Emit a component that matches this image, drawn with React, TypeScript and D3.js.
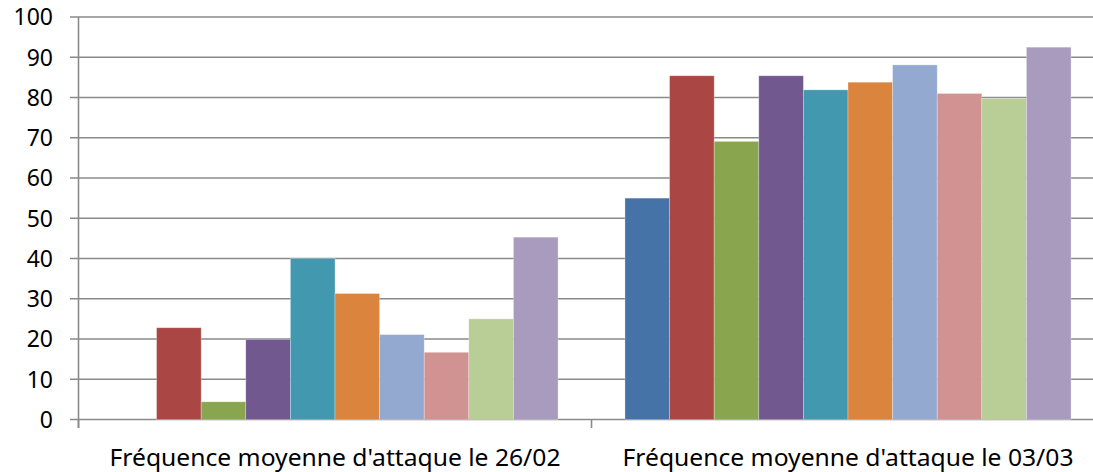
import React from "react";
import * as d3 from "d3";

const categories = ["Fréquence moyenne d'attaque le 26/02", "Fréquence moyenne d'attaque le 03/03"];
const seriesNames = ["S1", "S2", "S3", "S4", "S5", "S6", "S7", "S8", "S9", "S10"];
const series1 = [0, 55.0];
const series2 = [22.8, 85.4];
const series3 = [4.4, 69.1];
const series4 = [19.9, 85.4];
const series5 = [40.0, 81.9];
const series6 = [31.3, 83.8];
const series7 = [21.1, 88.1];
const series8 = [16.7, 81.0];
const series9 = [25.0, 79.8];
const series10 = [45.3, 92.5];
const allSeries = [series1, series2, series3, series4, series5, series6, series7, series8, series9, series10];
const colors = ["#4572A7", "#AA4643", "#89A54E", "#71588F", "#4198AF", "#DB843D", "#93A9CF", "#D19392", "#B9CD96", "#A99BBD"];
const yTicks = [0, 10, 20, 30, 40, 50, 60, 70, 80, 90, 100];

export default function App() {
  const W = 1093, H = 472;
  const left = 78.5, right = 1104.5, top = 17, bottom = 419.5;
  const x0 = d3.scaleBand<string>().domain(categories).range([left, right]).paddingInner(0).paddingOuter(0);
  const bw = x0.bandwidth();
  const gap = bw * 1.5 / 11.5;
  const x1 = d3.scaleBand<string>().domain(seriesNames).range([gap / 2, bw - gap / 2]).padding(0);
  const y = d3.scaleLinear().domain([0, 100]).range([bottom, top]);
  const font = "'Noto Sans', 'Open Sans', sans-serif";
  const grid = "#8a8a8a";
  return (
    <svg width={W} height={H} style={{ position: "absolute", left: 0, top: 0, background: "#fff" }}>
      {yTicks.map((t) => (
        <g key={t}>
          <line x1={70} x2={W} y1={y(t)} y2={y(t)} stroke={grid} strokeWidth={1.6} />
          <text x={53} y={y(t)} dy="0.36em" textAnchor="end" fontFamily={font} fontSize={23} fill="#000">{t}</text>
        </g>
      ))}
      <line x1={left} x2={left} y1={top} y2={428} stroke={grid} strokeWidth={1.6} />
      {[...categories.map((c) => x0(c)!), right].map((xx, i) => (
        <line key={i} x1={xx} x2={xx} y1={bottom} y2={428} stroke={grid} strokeWidth={1.6} />
      ))}
      {categories.map((c, ci) => (
        <g key={c}>
          {allSeries.map((s, si) => {
            const v = s[ci];
            if (v <= 0) return null;
            const bx = x0(c)! + x1(seriesNames[si])!;
            return (
              <rect key={si} x={bx} y={y(v)} width={x1.bandwidth()} height={bottom - y(v)} fill={colors[si]}
                stroke="#ffffff" strokeOpacity={0.35} strokeWidth={0.8} />
            );
          })}
          <text x={x0(c)! + bw / 2} y={466} textAnchor="middle" fontFamily={font} fontSize={23} fill="#000"
            textLength={451} lengthAdjust="spacingAndGlyphs">{c}</text>
        </g>
      ))}
    </svg>
  );
}
